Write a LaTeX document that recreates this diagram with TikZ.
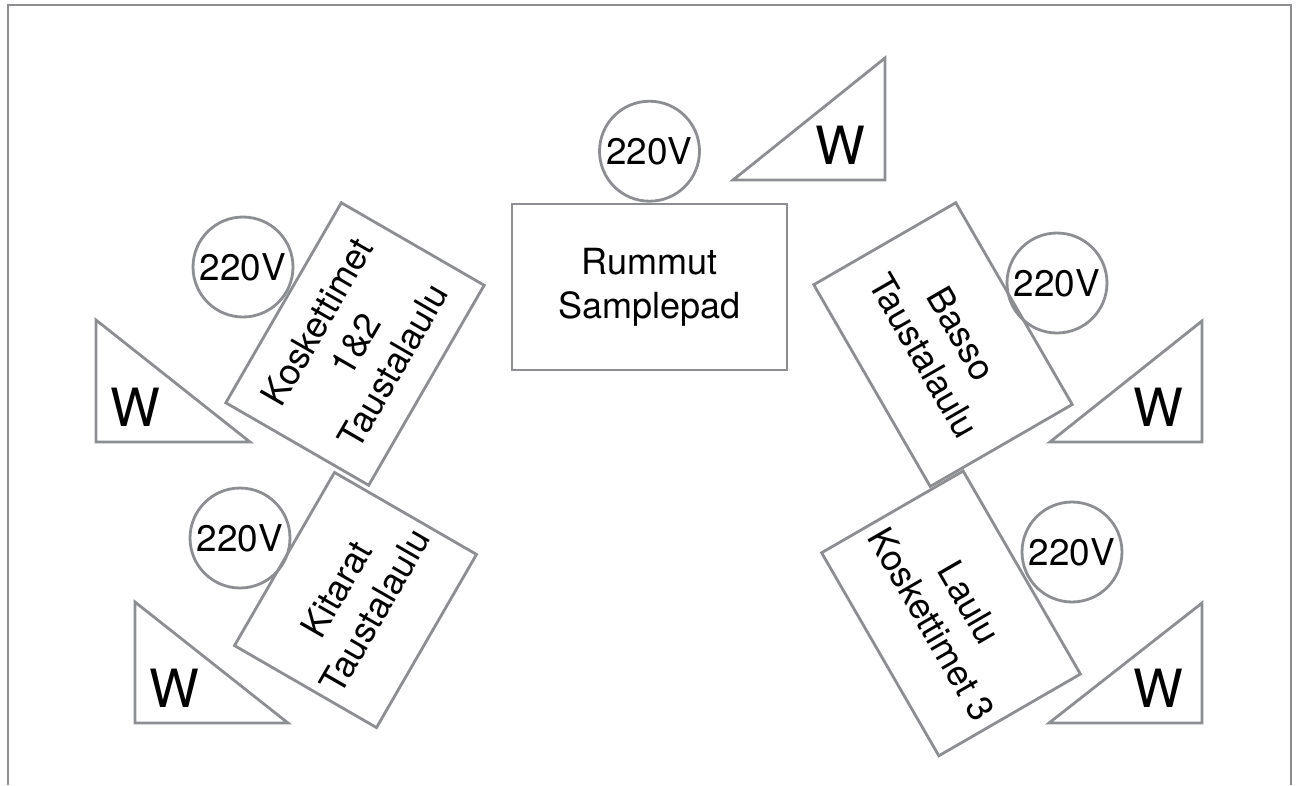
\documentclass[tikz,border=0pt]{standalone}
\usepackage{fontspec}
\setmainfont{TeX Gyre Heros}
\usetikzlibrary{positioning}
\definecolor{linegray}{HTML}{8C8E91}

\tikzset{
  gear/.style={draw=linegray, line width=1.6pt, align=center, inner sep=0pt,
    font=\fontsize{20.5}{25}\selectfont},
  socket/.style={circle, draw=linegray, line width=1.6pt, minimum size=2cm,
    inner sep=0pt, font=\fontsize{21}{24}\selectfont},
  wedge/.style={draw=linegray, line width=1.6pt, line join=miter},
  wlabel/.style={inner sep=0pt, font=\fontsize{30}{36}\selectfont}
}

\begin{document}
\begin{tikzpicture}[x=0.02cm, y=-0.02cm]
      \useasboundingbox (0,0) rectangle (1298,785);

      % Stage frame, open at the front
      \draw[linegray, line width=1.6pt] (8,785) -- (8,5) -- (1291,5) -- (1291,785);

      % Drums in the middle
      \node[gear, minimum width=5.5cm, minimum height=3.32cm] (drums) at (649.5,287) {Rummut\\Samplepad};
      \node[socket, above=0pt of drums] (drumspow) {220V};

      %Left side: keys and guitars
      \node[gear, rotate=60, minimum width=4.62cm, minimum height=3.3cm] (keys) at (355,344) {Koskettimet\\1\&2\\Taustalaulu};
      \node[gear, rotate=60, minimum width=4cm, minimum height=3.28cm] (guitars) at (355.5,600) {Kitarat\\Taustalaulu};
      \node[socket] (keyspow) at (243,267) {220V};
      \node[socket] (guitarspow) at (240,538) {220V};

      %Right side: bass and vocals
      \node[gear, rotate=-60, minimum width=4.66cm, minimum height=3.28cm] (bass) at (943,344.6) {Basso\\Taustalaulu};
      \node[gear, rotate=-60, minimum width=4.69cm, minimum height=3.27cm] (vocals) at (951,613.4) {Laulu\\Koskettimet 3};
      \node[socket] (basspow) at (1057,283) {220V};
      \node[socket] (vocalspow) at (1072,552) {220V};

      % Monitor wedges
      \draw[wedge] (733,180) -- (885,58) -- (885,180) -- cycle;
      \node[wlabel] (drumsmon) at (840,145) {W};

      \draw[wedge] (96,320) -- (96,442) -- (250,442) -- cycle;
      \node[wlabel] (keysmon) at (135,407) {W};
      \draw[wedge] (135,602) -- (135,723) -- (288,723) -- cycle;
      \node[wlabel] (guitarsmon) at (174,688) {W};

      \draw[wedge] (1050,442) -- (1202,321) -- (1202,442) -- cycle;
      \node[wlabel] (bassmon) at (1158,407) {W};
      \draw[wedge] (1049,723) -- (1202,603) -- (1202,723) -- cycle;
      \node[wlabel] (vocalsmon) at (1158,688) {W};
\end{tikzpicture}
\end{document}
